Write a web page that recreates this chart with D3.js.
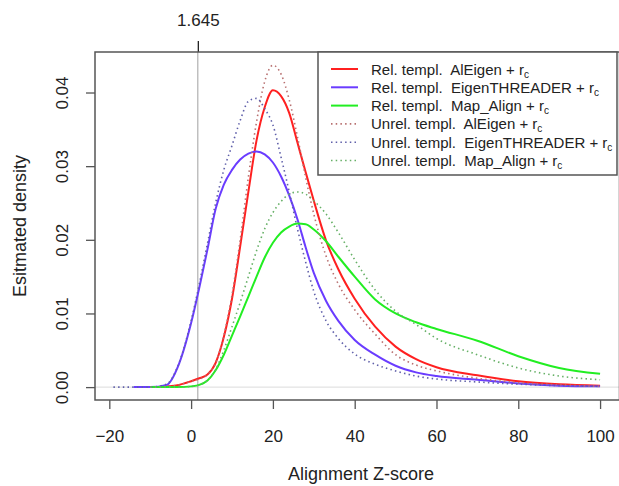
<!DOCTYPE html>
<html>
<head>
<meta charset="utf-8">
<script src="https://cdn.jsdelivr.net/npm/d3@7"></script>
<style>
  body { margin: 0; background: #fff; }
  svg { font-family: "Liberation Sans", Arial, sans-serif; }
  text { white-space: pre; }
</style>
</head>
<body>
<svg width="619" height="486"></svg>
<script>
// z-score grid shared by all curves (null = curve not drawn there)
const zGrid = [-19, -14, -10, -6, -3, 0, 2, 4, 6, 8, 10, 12, 14, 16, 18, 20, 22, 24, 26, 28, 30, 33, 36, 40, 45, 50, 55, 60, 70, 80, 90, 100];

const relAlEigen = [null, null, 0.0000, 0.0001, 0.0003, 0.0008, 0.0012, 0.0017, 0.0033, 0.0068, 0.0120, 0.0191, 0.0265, 0.0335, 0.0380, 0.0403, 0.0395, 0.0372, 0.0332, 0.0292, 0.0253, 0.0199, 0.0160, 0.0120, 0.0082, 0.0055, 0.0038, 0.0027, 0.0016, 0.0008, 0.0004, 0.0002];
const relEigenT = [null, 0.0000, 0.0000, 0.0003, 0.0031, 0.0087, 0.0135, 0.0187, 0.0242, 0.0275, 0.0295, 0.0309, 0.0317, 0.0320, 0.0316, 0.0305, 0.0286, 0.0260, 0.0228, 0.0190, 0.0155, 0.0117, 0.0090, 0.0064, 0.0044, 0.0029, 0.0020, 0.0015, 0.0010, 0.0005, 0.0002, 0.0001];
const relMapAlign = [null, null, 0.0000, 0.0000, 0.0000, 0.0001, 0.0003, 0.0009, 0.0023, 0.0044, 0.0070, 0.0096, 0.0123, 0.0150, 0.0176, 0.0196, 0.0210, 0.0218, 0.0222, 0.0221, 0.0214, 0.0198, 0.0177, 0.0150, 0.0119, 0.0100, 0.0088, 0.0079, 0.0063, 0.0042, 0.0026, 0.0018];
const unrelAlEigen = [null, null, 0.0000, 0.0001, 0.0003, 0.0008, 0.0011, 0.0017, 0.0033, 0.0070, 0.0125, 0.0200, 0.0285, 0.0360, 0.0415, 0.0437, 0.0425, 0.0390, 0.0340, 0.0285, 0.0235, 0.0178, 0.0140, 0.0105, 0.0072, 0.0044, 0.0030, 0.0022, 0.0012, 0.0006, 0.0003, 0.0001];
const unrelEigenT = [0.0000, 0.0000, 0.0000, 0.0004, 0.0032, 0.0090, 0.0140, 0.0195, 0.0250, 0.0295, 0.0328, 0.0362, 0.0388, 0.0392, 0.0378, 0.0356, 0.0312, 0.0265, 0.0215, 0.0170, 0.0130, 0.0090, 0.0066, 0.0045, 0.0031, 0.0022, 0.0015, 0.0011, 0.0007, 0.0004, 0.0002, 0.0001];
const unrelMapAlign = [null, null, 0.0000, 0.0000, 0.0000, 0.0001, 0.0003, 0.0009, 0.0024, 0.0050, 0.0082, 0.0115, 0.0150, 0.0185, 0.0215, 0.0237, 0.0252, 0.0262, 0.0265, 0.0262, 0.0253, 0.0235, 0.0210, 0.0173, 0.0132, 0.0103, 0.0085, 0.0066, 0.0044, 0.0026, 0.0015, 0.0010];

const xTicks = [-20, 0, 20, 40, 60, 80, 100];
const yTicks = [0, 0.01, 0.02, 0.03, 0.04];
const cutoff = 1.645;

const seriesNames = ['AlEigen', 'EigenTHREADER', 'Map_Align'];

const series = [
  {prefix: 'Rel. templ.  ', name: seriesNames[0], values: relAlEigen, color: '#ff2020', dotted: false},
  {prefix: 'Rel. templ.  ', name: seriesNames[1], values: relEigenT, color: '#6a3cff', dotted: false},
  {prefix: 'Rel. templ.  ', name: seriesNames[2], values: relMapAlign, color: '#22ee22', dotted: false},
  {prefix: 'Unrel. templ.  ', name: seriesNames[0], values: unrelAlEigen, color: '#b87070', dotted: true},
  {prefix: 'Unrel. templ.  ', name: seriesNames[1], values: unrelEigenT, color: '#6060aa', dotted: true},
  {prefix: 'Unrel. templ.  ', name: seriesNames[2], values: unrelMapAlign, color: '#66b066', dotted: true},
];

const FONT = '"Liberation Sans", Arial, sans-serif';

const svg = d3.select('svg');

const x = d3.scaleLinear().domain([-23.5, 104.75]).range([95, 619.5]);
const y = d3.scaleLinear().domain([-0.00175, 0.0455]).range([400, 52]);

// reference lines
svg.append('line')
  .attr('x1', x(-23.5)).attr('x2', x(104.75))
  .attr('y1', y(0)).attr('y2', y(0))
  .attr('stroke', '#dcdcdc').attr('stroke-width', 1);

svg.append('line')
  .attr('x1', x(cutoff)).attr('x2', x(cutoff))
  .attr('y1', y(-0.00175)).attr('y2', y(0.0455))
  .attr('stroke', '#a0a0a0').attr('stroke-width', 1);

// curves
const line = d3.line()
  .defined(d => d[1] !== null)
  .x(d => x(d[0]))
  .y(d => y(d[1]))
  .curve(d3.curveMonotoneX);

series.forEach(s => {
  svg.append('path')
    .datum(zGrid.map((z, i) => [z, s.values[i]]))
    .attr('fill', 'none')
    .attr('stroke', s.color)
    .attr('stroke-width', s.dotted ? 1.6 : 2)
    .attr('stroke-dasharray', s.dotted ? '1.5,3.2' : null)
    .attr('d', line);
});

// axes
const xAxis = svg.append('g')
  .attr('transform', `translate(0, ${y(-0.00175)})`)
  .call(d3.axisBottom(x).tickValues(xTicks).tickSize(9).tickPadding(21).tickSizeOuter(0));

const yAxis = svg.append('g')
  .attr('transform', `translate(${x(-23.5)}, 0)`)
  .call(d3.axisLeft(y).tickValues(yTicks).tickFormat(d3.format('.2f')).tickSize(9).tickSizeOuter(0));

[xAxis, yAxis].forEach(g => {
  g.select('.domain').remove();
  g.selectAll('line').attr('stroke', '#555').attr('stroke-width', 1.3);
  g.selectAll('text').attr('fill', '#222').style('font-size', '17px').style('font-family', FONT);
});

yAxis.selectAll('text')
  .attr('x', null).attr('dy', null)
  .attr('text-anchor', 'middle')
  .attr('transform', 'translate(-27, 0) rotate(-90)');

// top axis tick for the cutoff
const topAxis = svg.append('g')
  .attr('transform', `translate(0, ${y(0.0455)})`)
  .call(d3.axisTop(x).tickValues([cutoff]).tickFormat(d3.format('.3f')).tickSize(11).tickPadding(15).tickSizeOuter(0));
topAxis.select('.domain').remove();
topAxis.selectAll('line').attr('stroke', '#222').attr('stroke-width', 1.3);
topAxis.selectAll('text').attr('fill', '#222').style('font-size', '17px').style('font-family', FONT);

// plot box
svg.append('rect')
  .attr('x', x(-23.5)).attr('y', y(0.0455))
  .attr('width', x(104.75) - x(-23.5)).attr('height', y(-0.00175) - y(0.0455))
  .attr('fill', 'none').attr('stroke', '#555').attr('stroke-width', 1.5);

// axis titles
svg.append('text')
  .attr('x', 361).attr('y', 480)
  .attr('text-anchor', 'middle')
  .attr('fill', '#222').style('font-size', '18px')
  .text('Alignment Z-score');

svg.append('text')
  .attr('transform', `translate(26, ${(y(0.0455) + y(-0.00175)) / 2}) rotate(-90)`)
  .attr('text-anchor', 'middle')
  .attr('fill', '#222').style('font-size', '18px')
  .text('Esitmated density');

// legend
const legend = svg.append('g');
legend.append('rect')
  .attr('x', 318).attr('y', 52)
  .attr('width', 299).attr('height', 123)
  .attr('fill', '#fff').attr('stroke', '#555').attr('stroke-width', 1.5);

series.forEach((s, i) => {
  const ly = 69 + i * 18.3;
  legend.append('line')
    .attr('x1', 331).attr('x2', 358)
    .attr('y1', ly).attr('y2', ly)
    .attr('stroke', s.color)
    .attr('stroke-width', s.dotted ? 1.6 : 2)
    .attr('stroke-dasharray', s.dotted ? '1.5,3.2' : null);
  const t = legend.append('text')
    .attr('x', 371).attr('y', ly + 5.5)
    .attr('fill', '#222').style('font-size', '15px');
  t.append('tspan').text(s.prefix + s.name + ' + r');
  t.append('tspan').attr('dy', 3).style('font-size', '10px').text('c');
});
</script>
</body>
</html>
